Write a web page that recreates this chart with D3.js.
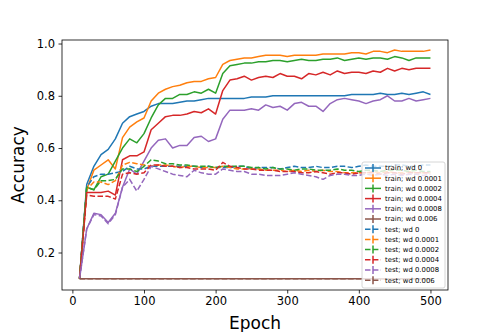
<!DOCTYPE html>
<html>
<head>
<meta charset="utf-8">
<script src="https://cdn.jsdelivr.net/npm/d3@7"></script>
<style>
  body { margin: 0; background: #fff; }
  svg { font-family: "DejaVu Sans", sans-serif; }
</style>
</head>
<body>
<div id="vis1"></div>
<script>
const FRAME_WIDTH = 498;
const FRAME_HEIGHT = 332;
const MARGINS = {left: 62, right: 50, top: 40, bottom: 42};

// data
const EPOCHS = [10, 20, 30, 40, 50, 60, 70, 80, 90, 100,
                110, 120, 130, 140, 150, 160, 170, 180, 190, 200,
                210, 220, 230, 240, 250, 260, 270, 280, 290, 300,
                310, 320, 330, 340, 350, 360, 370, 380, 390, 400,
                410, 420, 430, 440, 450, 460, 470, 480, 490, 500];

const TRAIN_WD_0 = [0.10, 0.46, 0.53, 0.575, 0.595, 0.635, 0.695, 0.72, 0.73, 0.74,
                    0.76, 0.77, 0.77, 0.77, 0.775, 0.78, 0.78, 0.785, 0.79, 0.79,
                    0.79, 0.79, 0.79, 0.79, 0.795, 0.795, 0.795, 0.80, 0.80, 0.80,
                    0.80, 0.80, 0.80, 0.80, 0.80, 0.80, 0.80, 0.80, 0.805, 0.805,
                    0.805, 0.805, 0.81, 0.805, 0.805, 0.81, 0.805, 0.81, 0.815, 0.805];
const TRAIN_WD_1 = [0.10, 0.44, 0.515, 0.535, 0.555, 0.52, 0.64, 0.68, 0.70, 0.715,
                    0.78, 0.81, 0.825, 0.835, 0.84, 0.85, 0.855, 0.855, 0.865, 0.87,
                    0.92, 0.935, 0.94, 0.945, 0.945, 0.95, 0.955, 0.955, 0.955, 0.95,
                    0.955, 0.955, 0.955, 0.955, 0.96, 0.96, 0.96, 0.96, 0.965, 0.965,
                    0.96, 0.97, 0.97, 0.965, 0.975, 0.97, 0.97, 0.97, 0.97, 0.975];
const TRAIN_WD_2 = [0.10, 0.45, 0.44, 0.49, 0.50, 0.55, 0.60, 0.635, 0.62, 0.655,
                    0.715, 0.765, 0.79, 0.79, 0.805, 0.805, 0.815, 0.81, 0.825, 0.81,
                    0.885, 0.915, 0.92, 0.925, 0.925, 0.93, 0.93, 0.935, 0.935, 0.93,
                    0.935, 0.94, 0.935, 0.935, 0.94, 0.94, 0.945, 0.935, 0.94, 0.945,
                    0.94, 0.945, 0.945, 0.94, 0.95, 0.945, 0.935, 0.945, 0.945, 0.945];
const TRAIN_WD_4 = [0.10, 0.43, 0.43, 0.43, 0.435, 0.42, 0.555, 0.57, 0.57, 0.585,
                    0.67, 0.695, 0.72, 0.725, 0.725, 0.73, 0.74, 0.735, 0.75, 0.73,
                    0.82, 0.86, 0.865, 0.875, 0.86, 0.87, 0.875, 0.87, 0.885, 0.875,
                    0.875, 0.865, 0.885, 0.88, 0.89, 0.88, 0.895, 0.885, 0.89, 0.89,
                    0.885, 0.895, 0.89, 0.905, 0.895, 0.905, 0.90, 0.905, 0.905, 0.905];
const TRAIN_WD_8 = [0.10, 0.29, 0.35, 0.345, 0.315, 0.35, 0.45, 0.52, 0.50, 0.55,
                    0.60, 0.63, 0.635, 0.60, 0.61, 0.61, 0.64, 0.645, 0.625, 0.635,
                    0.71, 0.745, 0.745, 0.745, 0.75, 0.745, 0.765, 0.755, 0.76, 0.745,
                    0.77, 0.775, 0.76, 0.76, 0.74, 0.77, 0.785, 0.79, 0.785, 0.78,
                    0.77, 0.78, 0.785, 0.80, 0.78, 0.78, 0.79, 0.78, 0.785, 0.79];
const TRAIN_WD_60 = [0.1, 0.1, 0.1, 0.1, 0.1, 0.1, 0.1, 0.1, 0.1, 0.1,
                     0.1, 0.1, 0.1, 0.1, 0.1, 0.1, 0.1, 0.1, 0.1, 0.1,
                     0.1, 0.1, 0.1, 0.1, 0.1, 0.1, 0.1, 0.1, 0.1, 0.1,
                     0.1, 0.1, 0.1, 0.1, 0.1, 0.1, 0.1, 0.1, 0.1, 0.1,
                     0.1, 0.1, 0.1, 0.1, 0.1, 0.1, 0.1, 0.1, 0.1, 0.1];

const TEST_WD_0 = [0.10, 0.45, 0.49, 0.50, 0.50, 0.505, 0.51, 0.53, 0.52, 0.52,
                   0.53, 0.53, 0.53, 0.53, 0.53, 0.53, 0.53, 0.525, 0.53, 0.525,
                   0.525, 0.525, 0.53, 0.53, 0.52, 0.525, 0.525, 0.525, 0.52, 0.525,
                   0.53, 0.525, 0.525, 0.53, 0.525, 0.525, 0.53, 0.53, 0.525, 0.53,
                   0.535, 0.53, 0.53, 0.53, 0.535, 0.535, 0.53, 0.53, 0.535, 0.535];
const TEST_WD_1 = [0.10, 0.44, 0.47, 0.47, 0.46, 0.475, 0.535, 0.545, 0.54, 0.535,
                   0.53, 0.535, 0.535, 0.53, 0.525, 0.53, 0.53, 0.525, 0.525, 0.525,
                   0.53, 0.525, 0.52, 0.52, 0.52, 0.52, 0.515, 0.515, 0.515, 0.51,
                   0.515, 0.51, 0.515, 0.51, 0.515, 0.51, 0.51, 0.505, 0.505, 0.505,
                   0.505, 0.51, 0.505, 0.51, 0.505, 0.505, 0.51, 0.505, 0.505, 0.505];
const TEST_WD_2 = [0.10, 0.45, 0.44, 0.475, 0.475, 0.48, 0.52, 0.52, 0.51, 0.53,
                   0.555, 0.55, 0.54, 0.54, 0.535, 0.535, 0.53, 0.53, 0.53, 0.525,
                   0.53, 0.53, 0.53, 0.53, 0.525, 0.525, 0.52, 0.525, 0.52, 0.52,
                   0.515, 0.52, 0.52, 0.515, 0.515, 0.515, 0.52, 0.515, 0.515, 0.51,
                   0.515, 0.515, 0.51, 0.515, 0.515, 0.515, 0.51, 0.515, 0.51, 0.51];
const TEST_WD_4 = [0.10, 0.42, 0.415, 0.415, 0.415, 0.405, 0.50, 0.505, 0.50, 0.505,
                   0.535, 0.535, 0.53, 0.53, 0.525, 0.525, 0.52, 0.52, 0.52, 0.515,
                   0.545, 0.53, 0.525, 0.52, 0.52, 0.515, 0.515, 0.515, 0.51, 0.51,
                   0.51, 0.505, 0.505, 0.51, 0.505, 0.50, 0.505, 0.505, 0.50, 0.505,
                   0.505, 0.505, 0.50, 0.505, 0.505, 0.50, 0.505, 0.505, 0.505, 0.505];
const TEST_WD_8 = [0.10, 0.29, 0.345, 0.34, 0.31, 0.345, 0.45, 0.48, 0.435, 0.48,
                   0.53, 0.52, 0.51, 0.50, 0.495, 0.49, 0.515, 0.505, 0.50, 0.50,
                   0.52, 0.515, 0.51, 0.51, 0.50, 0.50, 0.495, 0.495, 0.495, 0.50,
                   0.505, 0.50, 0.495, 0.49, 0.48, 0.495, 0.50, 0.50, 0.495, 0.495,
                   0.50, 0.495, 0.50, 0.495, 0.50, 0.495, 0.50, 0.50, 0.495, 0.50];
const TEST_WD_60 = [0.1, 0.1, 0.1, 0.1, 0.1, 0.1, 0.1, 0.1, 0.1, 0.1,
                    0.1, 0.1, 0.1, 0.1, 0.1, 0.1, 0.1, 0.1, 0.1, 0.1,
                    0.1, 0.1, 0.1, 0.1, 0.1, 0.1, 0.1, 0.1, 0.1, 0.1,
                    0.1, 0.1, 0.1, 0.1, 0.1, 0.1, 0.1, 0.1, 0.1, 0.1,
                    0.1, 0.1, 0.1, 0.1, 0.1, 0.1, 0.1, 0.1, 0.1, 0.1];

const LABELS = ["train; wd 0", "train; wd 0.0001", "train; wd 0.0002",
                "train; wd 0.0004", "train; wd 0.0008", "train; wd 0.006",
                "test; wd 0", "test; wd 0.0001", "test; wd 0.0002",
                "test; wd 0.0004", "test; wd 0.0008", "test; wd 0.006"];
const Y_TICKS = [0.2, 0.4, 0.6, 0.8, 1.0];
const X_TICKS = [0, 100, 200, 300, 400, 500];

const COLORS = ["#1f77b4", "#ff7f0e", "#2ca02c", "#d62728", "#9467bd", "#8c564b"];

const SERIES = [TRAIN_WD_0, TRAIN_WD_1, TRAIN_WD_2, TRAIN_WD_4, TRAIN_WD_8, TRAIN_WD_60,
                TEST_WD_0, TEST_WD_1, TEST_WD_2, TEST_WD_4, TEST_WD_8, TEST_WD_60]
  .map((vals, i) => ({name: LABELS[i], color: COLORS[i % 6], dashed: i >= 6, values: vals}));

const VIS_WIDTH = FRAME_WIDTH - MARGINS.left - MARGINS.right;
const VIS_HEIGHT = FRAME_HEIGHT - MARGINS.top - MARGINS.bottom;

const FRAME = d3.select("#vis1")
                .append("svg")
                  .attr("width", FRAME_WIDTH)
                  .attr("height", FRAME_HEIGHT);

// matplotlib style 5% margins round the data
const X_SCALE = d3.scaleLinear().domain([-14.5, 524.5]).range([0, VIS_WIDTH]);
const Y_SCALE = d3.scaleLinear().domain([0.0565, 1.0135]).range([VIS_HEIGHT, 0]);

const G = FRAME.append("g")
               .attr("transform", "translate(" + MARGINS.left + "," + MARGINS.top + ")");

const line = d3.line()
               .x((d, i) => X_SCALE(EPOCHS[i]))
               .y((d) => Y_SCALE(d));

G.selectAll(".series")
  .data(SERIES)
  .enter()
  .append("path")
    .attr("class", "series")
    .attr("d", (s) => line(s.values))
    .attr("fill", "none")
    .attr("stroke", (s) => s.color)
    .attr("stroke-width", 1.5)
    .attr("stroke-linejoin", "round")
    .attr("stroke-dasharray", (s) => s.dashed ? "5.5,2.4" : null);

// axes
const xAxis = G.append("g")
  .attr("transform", "translate(0," + VIS_HEIGHT + ")")
  .call(d3.axisBottom(X_SCALE).tickValues(X_TICKS).tickSize(3.5).tickPadding(3.5));
const yAxis = G.append("g")
  .call(d3.axisLeft(Y_SCALE).tickValues(Y_TICKS).tickFormat(d3.format(".1f"))
        .tickSize(3.5).tickPadding(3.5));

[xAxis, yAxis].forEach((a) => {
  a.select(".domain").remove();
  a.selectAll("text").attr("font-size", "11.5px").attr("fill", "#000")
   .attr("font-family", "DejaVu Sans");
  a.selectAll("line").attr("stroke", "#000").attr("stroke-width", 0.8);
});

G.append("rect")
  .attr("width", VIS_WIDTH)
  .attr("height", VIS_HEIGHT)
  .attr("fill", "none")
  .attr("stroke", "#000")
  .attr("stroke-width", 0.8);

FRAME.append("text")
  .attr("x", MARGINS.left + VIS_WIDTH / 2)
  .attr("y", 329)
  .attr("text-anchor", "middle")
  .attr("font-size", "17px")
  .text("Epoch");

FRAME.append("text")
  .attr("transform", "translate(24," + (MARGINS.top + VIS_HEIGHT / 2) + ") rotate(-90)")
  .attr("text-anchor", "middle")
  .attr("font-size", "17px")
  .text("Accuracy");

// legend
const LEG_X = 362, LEG_Y = 162, ROW = 10.2;
FRAME.append("rect")
  .attr("x", LEG_X)
  .attr("y", LEG_Y)
  .attr("width", 83)
  .attr("height", 126)
  .attr("rx", 2)
  .attr("fill", "#fff")
  .attr("fill-opacity", 0.8)
  .attr("stroke", "#ccc")
  .attr("stroke-width", 0.8);

const leg = FRAME.selectAll(".leg")
  .data(SERIES)
  .enter()
  .append("g")
    .attr("class", "leg")
    .attr("transform", (s, i) => "translate(" + LEG_X + "," + (LEG_Y + 6 + i * ROW) + ")");

leg.append("line")
  .attr("x1", 3).attr("x2", 19)
  .attr("stroke", (s) => s.color)
  .attr("stroke-width", 1.5)
  .attr("stroke-dasharray", (s) => s.dashed ? "5.5,2.4" : null);
leg.append("line")
  .attr("x1", 11).attr("x2", 11).attr("y1", -4).attr("y2", 4)
  .attr("stroke", (s) => s.color)
  .attr("stroke-width", 1.5);
leg.append("text")
  .attr("x", 23)
  .attr("dy", "0.35em")
  .attr("font-size", "6.9px")
  .text((s) => s.name);
</script>
</body>
</html>
